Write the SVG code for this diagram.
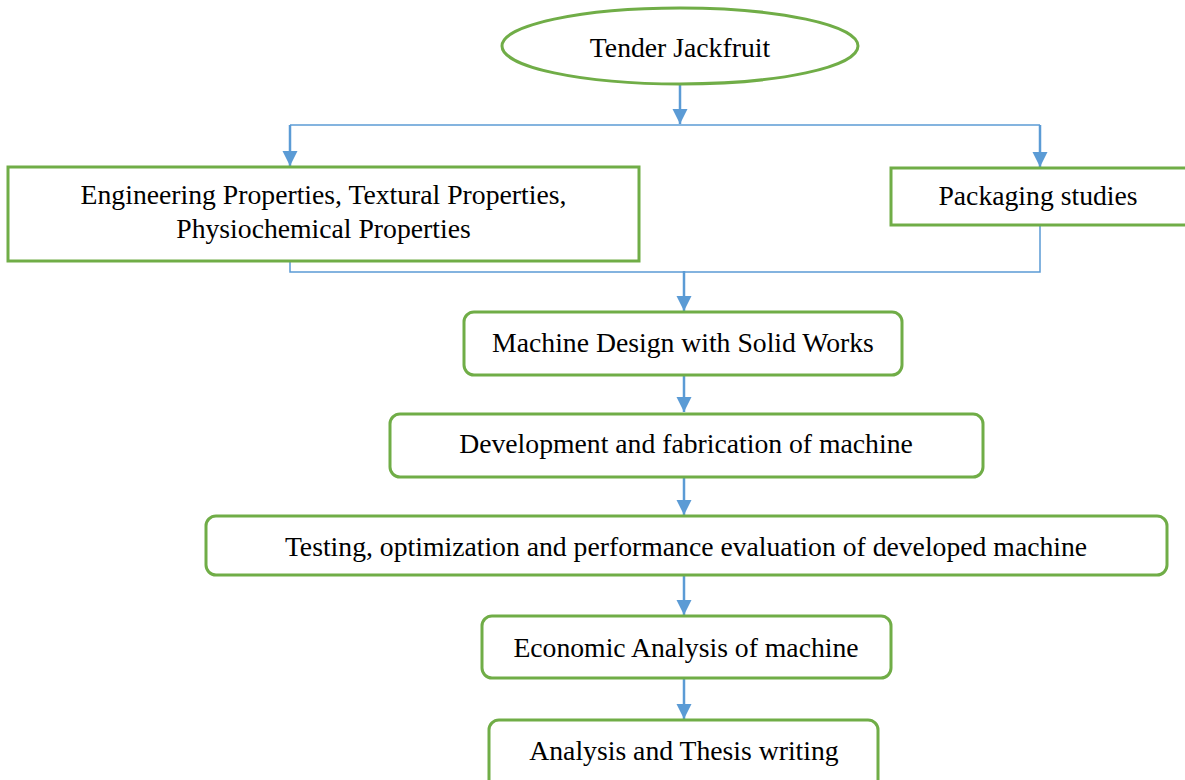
<svg xmlns="http://www.w3.org/2000/svg" width="1185" height="780" viewBox="0 0 1185 780">
<style>
.box{fill:#fff;stroke:#70AD47;stroke-width:3}
.t{font-family:"Liberation Serif","Times New Roman",serif;font-size:27.7px;fill:#000;text-anchor:middle}
.ln{fill:none;stroke:#5B9BD5;stroke-width:1.5}
.ar{fill:none;stroke:#5B9BD5;stroke-width:2.5}
</style>
<defs>
<marker id="ah" markerUnits="userSpaceOnUse" markerWidth="16" markerHeight="16" refX="15" refY="8" orient="auto" viewBox="0 0 16 16">
<path d="M0,0.5 L15,8 L0,15.5 Z" fill="#5B9BD5"/>
</marker>
</defs>
<rect width="1185" height="780" fill="#fff"/>
<g id="connectors">
<path class="ar" d="M680,84 V124" marker-end="url(#ah)"/>
<path class="ln" d="M290,125 H1040"/>
<path class="ar" d="M290,125 V166" marker-end="url(#ah)"/>
<path class="ar" d="M1040,125 V167" marker-end="url(#ah)"/>
<path class="ln" d="M290,261 V272 H1040 V225"/>
<path class="ar" d="M684,271 V311" marker-end="url(#ah)"/>
<path class="ar" d="M684,376 V412" marker-end="url(#ah)"/>
<path class="ar" d="M684,478 V515" marker-end="url(#ah)"/>
<path class="ar" d="M684,576 V615" marker-end="url(#ah)"/>
<path class="ar" d="M684,679 V719" marker-end="url(#ah)"/>
</g>
<g id="n-tender">
<ellipse class="box" cx="680" cy="46" rx="178" ry="38"/>
<text class="t" x="680" y="57">Tender Jackfruit</text>
</g>
<g id="n-properties">
<rect class="box" x="8" y="167" width="631" height="94"/>
<text class="t" x="323.5" y="204">Engineering Properties, Textural Properties,</text>
<text class="t" x="323.5" y="238">Physiochemical Properties</text>
</g>
<g id="n-packaging">
<rect class="box" x="891" y="168" width="310" height="57"/>
<text class="t" x="1038" y="205">Packaging studies</text>
</g>
<g id="n-design">
<rect class="box" x="464" y="312" width="438" height="63" rx="10"/>
<text class="t" x="683" y="352">Machine Design with Solid Works</text>
</g>
<g id="n-development">
<rect class="box" x="390" y="414" width="593" height="63" rx="10"/>
<text class="t" x="686" y="453">Development and fabrication of machine</text>
</g>
<g id="n-testing">
<rect class="box" x="206" y="516" width="961" height="59" rx="10"/>
<text class="t" x="686" y="556">Testing, optimization and performance evaluation of developed machine</text>
</g>
<g id="n-economic">
<rect class="box" x="482" y="616" width="409" height="62" rx="10"/>
<text class="t" x="686" y="657">Economic Analysis of machine</text>
</g>
<g id="n-thesis">
<rect class="box" x="489" y="720" width="389" height="80" rx="10"/>
<text class="t" x="684" y="760">Analysis and Thesis writing</text>
</g>
</svg>
